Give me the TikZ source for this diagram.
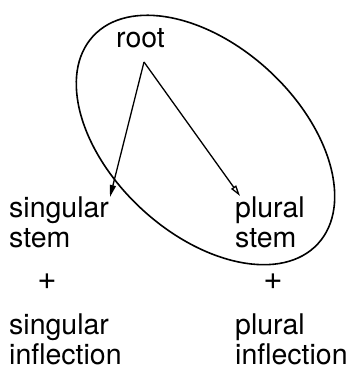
\documentclass[tikz,border=0pt]{standalone}
\usepackage{fontspec}
\setmainfont{TeX Gyre Heros}
\usetikzlibrary{arrows.meta}
\begin{document}
\begin{tikzpicture}[x=1pt,y=-1pt,
  lbl/.style={inner sep=0pt, anchor=base west, align=left, font=\fontsize{28.5}{30}\selectfont},
  plus/.style={inner sep=0pt, anchor=center, font=\fontsize{33}{33}\selectfont},
  edge/.style={line width=1.3pt},
  bag/.style={line width=1.6pt}]
\useasboundingbox (0,0) rectangle (350,367);
\coordinate (c) at (205.5,140);
\draw[bag, rotate around={-42.75:(c)}] (c) ellipse [x radius=153pt, y radius=94pt];
\node[lbl] (root) at (116,47) {root};
\coordinate (src) at (144,62);
\node[lbl] (sgs) at (9,247) {singular\\stem};
\node[lbl] (pls) at (235,247) {plural\\stem};
\node[plus] (p1) at (47,282) {+};
\node[plus] (p2) at (273,282) {+};
\node[lbl] (sgi) at (9,364) {singular\\inflection};
\node[lbl] (pli) at (235,364) {plural\\inflection};
\coordinate (sgt) at (110,197);
\coordinate (plt) at (240,196);
\draw[edge, -{Triangle[length=12pt,width=6pt]}] (src) -- (sgt);
\draw[edge, -{Triangle[open,length=11pt,width=6pt]}] (src) -- (plt);
\end{tikzpicture}
\end{document}
